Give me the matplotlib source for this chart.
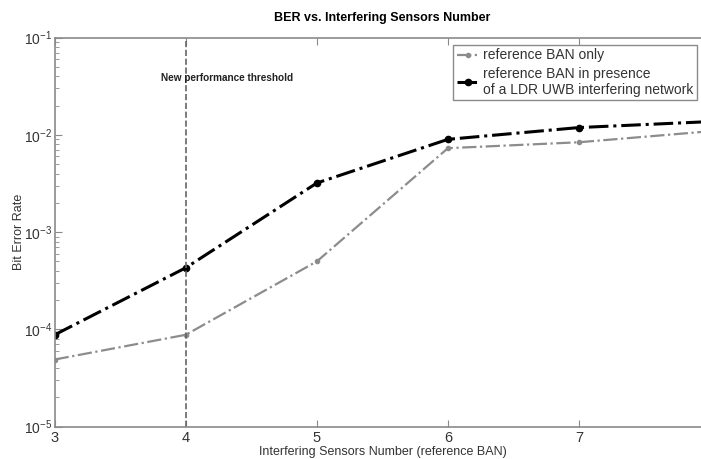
import matplotlib
matplotlib.use("Agg")
import matplotlib.pyplot as plt
from matplotlib.ticker import LogLocator, NullFormatter

plt.rcParams["font.family"] = ["Liberation Sans", "DejaVu Sans"]

sensors = [3, 4, 5, 6, 7, 8]
ber_ban_only = [4.9e-5, 8.8e-5, 5.0e-4, 7.3e-3, 8.4e-3, 1.09e-2]
ber_with_ldr = [8.8e-5, 4.3e-4, 3.2e-3, 9.0e-3, 1.19e-2, 1.37e-2]
threshold_x = 4
xtick_values = [3, 4, 5, 6, 7]

axis_grey = "#8a8a8a"

fig = plt.figure(figsize=(7.01, 4.59), dpi=100)
ax = fig.add_axes([0.078, 0.0705, 0.935, 0.8475])

ax.plot(sensors, ber_ban_only, color="#8c8c8c", linestyle="-.", linewidth=1.6,
        marker=".", markersize=6, label="reference BAN only")
ax.plot(sensors, ber_with_ldr, color="black", linestyle="-.", linewidth=2.2,
        marker=".", markersize=9,
        label="reference BAN in presence\nof a LDR UWB interfering network")

ax.axvline(threshold_x, color="#666666", linestyle="--", linewidth=1.2)
ax.text(3.81, 0.0386, "New performance threshold", fontsize=7.2,
        fontweight="bold", va="center", ha="left", color="#222222")

ax.set_yscale("log")
ax.set_xlim(3, 8)
ax.set_ylim(1e-5, 1e-1)
ax.set_xticks(xtick_values)
ax.yaxis.set_major_locator(LogLocator(base=10, numticks=10))
ax.yaxis.set_minor_locator(LogLocator(base=10, subs=range(2, 10), numticks=50))
ax.yaxis.set_minor_formatter(NullFormatter())

for side in ["left", "bottom", "top", "right"]:
    ax.spines[side].set_color(axis_grey)
    ax.spines[side].set_linewidth(1.2)
ax.tick_params(which="both", direction="in", top=True, right=False,
               colors=axis_grey, labelcolor="#333333", labelsize=10)
ax.tick_params(axis="x", labelsize=10.5)
ax.tick_params(which="major", length=5, pad=3)
ax.tick_params(axis="y", which="major", pad=2)
ax.tick_params(which="minor", length=3)

ax.set_title("BER vs. Interfering Sensors Number", fontsize=9,
             fontweight="bold", pad=12)
ax.set_xlabel("Interfering Sensors Number (reference BAN)", fontsize=9,
              color="#333333", labelpad=1)
ax.set_ylabel("Bit Error Rate", fontsize=9, color="#333333")
ax.yaxis.set_label_coords(-0.046, 0.5)

leg = ax.legend(loc="upper right", bbox_to_anchor=(0.9945, 0.902),
                bbox_transform=fig.transFigure,
                fontsize=10, handlelength=1.6, handletextpad=0.3,
                labelspacing=0.3, borderpad=0.25, fancybox=False,
                framealpha=1, borderaxespad=0.0)
leg.get_frame().set_edgecolor(axis_grey)
leg.get_frame().set_linewidth(1.0)
for t in leg.get_texts():
    t.set_color("#333333")

fig.savefig("out.png", dpi=100)
